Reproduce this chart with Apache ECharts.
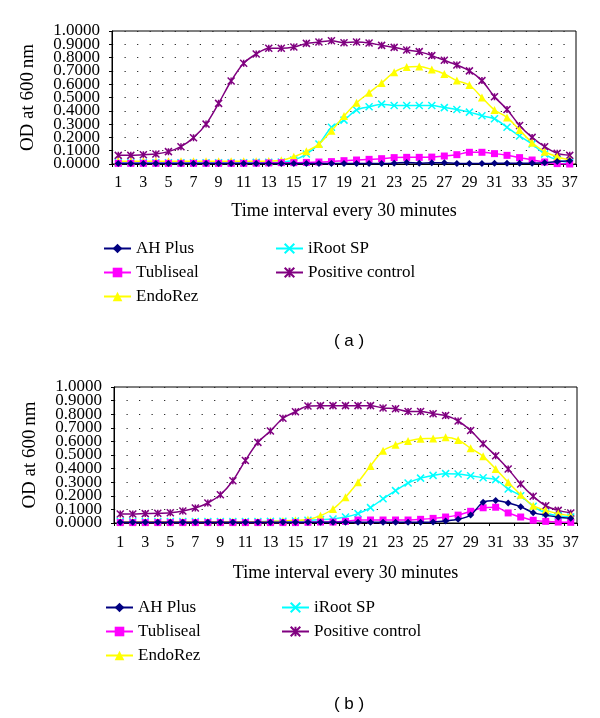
<!DOCTYPE html>
<html>
<head>
<meta charset="utf-8">
<script src="https://cdn.jsdelivr.net/npm/echarts@6/dist/echarts.min.js"></script>
<style>html,body{margin:0;padding:0;background:#fff}#c{width:600px;height:718px}</style>
</head>
<body>
<div id="c"></div>
<script>
const categories = Array.from({length: 37}, (_, i) => String(i + 1));
const seriesNames = ['AH Plus', 'Tubliseal', 'EndoRez', 'iRoot SP', 'Positive control'];
const yTicks = [0, 0.1, 0.2, 0.3, 0.4, 0.5, 0.6, 0.7, 0.8, 0.9, 1.0];

// Panel (a)
const aAHPlus = [0.003,0.003,0.003,0.003,0.003,0.003,0.003,0.003,0.003,0.003,0.003,0.003,0.003,0.003,0.003,0.003,0.003,0.003,0.003,0.003,0.003,0.004,0.006,0.012,0.006,0.01,0.01,0.004,0.004,0.004,0.005,0.005,0.005,0.006,0.01,0.018,0.025];
const aTubliseal = [0.005,0.005,0.005,0.005,0.005,0.005,0.005,0.005,0.005,0.005,0.005,0.006,0.008,0.01,0.01,0.012,0.015,0.018,0.025,0.03,0.035,0.04,0.048,0.05,0.05,0.052,0.06,0.07,0.088,0.088,0.078,0.065,0.048,0.03,0.015,0.003,0.0];
const aEndoRez = [0.02,0.02,0.02,0.02,0.02,0.02,0.02,0.02,0.02,0.02,0.02,0.02,0.022,0.028,0.055,0.095,0.15,0.25,0.36,0.46,0.536,0.609,0.69,0.73,0.734,0.71,0.677,0.627,0.594,0.5,0.406,0.35,0.255,0.16,0.093,0.055,0.03];
const aIRootSP = [0.01,0.01,0.01,0.01,0.01,0.01,0.01,0.01,0.01,0.01,0.01,0.012,0.013,0.015,0.03,0.075,0.15,0.276,0.33,0.406,0.43,0.45,0.44,0.44,0.44,0.44,0.424,0.41,0.39,0.363,0.34,0.276,0.21,0.15,0.075,0.03,0.01];
const aPositive = [0.065,0.065,0.07,0.075,0.093,0.13,0.198,0.3,0.456,0.624,0.757,0.827,0.87,0.87,0.88,0.907,0.917,0.927,0.912,0.917,0.91,0.892,0.877,0.857,0.845,0.815,0.78,0.744,0.7,0.627,0.506,0.41,0.29,0.2,0.13,0.08,0.065];

// Panel (b)
const bAHPlus = [0.005,0.005,0.005,0.005,0.005,0.005,0.005,0.005,0.005,0.005,0.005,0.005,0.005,0.005,0.005,0.005,0.005,0.005,0.005,0.005,0.005,0.005,0.005,0.005,0.006,0.008,0.015,0.027,0.058,0.153,0.166,0.147,0.12,0.076,0.058,0.043,0.035];
const bTubliseal = [0.003,0.003,0.003,0.003,0.003,0.003,0.003,0.003,0.003,0.003,0.003,0.003,0.003,0.003,0.003,0.005,0.007,0.007,0.012,0.022,0.022,0.022,0.022,0.022,0.027,0.034,0.044,0.058,0.086,0.112,0.116,0.074,0.044,0.02,0.012,0.007,0.005];
const bEndoRez = [0.01,0.01,0.01,0.01,0.01,0.01,0.01,0.01,0.01,0.01,0.01,0.01,0.012,0.015,0.02,0.025,0.054,0.103,0.19,0.3,0.42,0.532,0.575,0.603,0.62,0.622,0.63,0.61,0.55,0.49,0.397,0.3,0.208,0.127,0.093,0.069,0.054];
const bIRootSP = [0.01,0.01,0.01,0.01,0.01,0.01,0.01,0.01,0.01,0.01,0.01,0.01,0.012,0.013,0.015,0.02,0.025,0.03,0.044,0.069,0.113,0.178,0.238,0.294,0.33,0.35,0.363,0.36,0.348,0.333,0.319,0.25,0.2,0.123,0.074,0.054,0.044];
const bPositive = [0.066,0.066,0.069,0.071,0.076,0.088,0.11,0.147,0.208,0.311,0.46,0.593,0.676,0.77,0.818,0.86,0.863,0.863,0.863,0.863,0.863,0.846,0.84,0.82,0.82,0.804,0.79,0.75,0.68,0.583,0.495,0.397,0.287,0.196,0.127,0.093,0.074];

const colors = ['#000080', '#FF00FF', '#FFFF00', '#00FFFF', '#800080'];
const symbols = [
  'diamond',
  'rect',
  'triangle',
  'path://M0,0L10,10M10,0L0,10',
  'path://M0,0L10,10M10,0L0,10M5,0L5,10'
];
const symbolSizes = [7, 7, 8, 7, 7];
const serif = '"Liberation Serif", "DejaVu Serif", serif';

const panels = [
  {data: [aAHPlus, aTubliseal, aEndoRez, aIRootSP, aPositive], grid: {left: 112, top: 31, width: 464, height: 133}},
  {data: [bAHPlus, bTubliseal, bEndoRez, bIRootSP, bPositive], grid: {left: 114, top: 387, width: 463, height: 136}}
];

const isOddTenth = v => Math.round(v * 10) % 2 === 1;
const fmt = v => v.toFixed(4);

const grids = [], xAxes = [], yAxes = [], series = [];
panels.forEach((p, pi) => {
  grids.push(Object.assign({show: true, borderColor: '#000', borderWidth: 1, backgroundColor: '#fff'}, p.grid));
  const step = p.grid.width / categories.length;
  xAxes.push({
    type: 'category', gridIndex: pi, data: categories, boundaryGap: true,
    name: 'Time interval every 30 minutes', nameLocation: 'middle', nameGap: pi === 0 ? 38 : 41,
    nameTextStyle: {fontFamily: serif, fontSize: 18, color: '#000'},
    axisLine: {lineStyle: {color: '#000', width: 1}},
    axisTick: {show: true, length: 3, lineStyle: {color: '#000'}},
    axisLabel: {interval: 1, fontFamily: serif, fontSize: 16, color: '#000', margin: pi === 0 ? 11 : 12},
    splitLine: {show: false}
  });
  // main axis: grid lines, ticks, odd-tenth labels
  yAxes.push({
    type: 'value', gridIndex: pi, position: 'left', offset: 0, min: 0, max: 1, interval: 0.1,
    name: 'OD at 600\u2009nm', nameLocation: 'middle', nameGap: 74, nameRotate: 90,
    nameTextStyle: {fontFamily: serif, fontSize: 19, color: '#000'},
    axisLine: {show: true, lineStyle: {color: '#000', width: 1}},
    axisTick: {show: true, length: 3, lineStyle: {color: '#000'}},
    axisLabel: {fontFamily: serif, fontSize: 17, color: '#000', margin: 12, formatter: v => isOddTenth(v) ? fmt(v) : ''},
    splitLine: {show: true, lineStyle: {color: '#222', width: 1, type: [1.2, step - 1.2]}}
  });
  // companion axis: even-tenth labels only
  yAxes.push({
    type: 'value', gridIndex: pi, position: 'left', offset: 0, min: 0, max: 1, interval: 0.2,
    axisLine: {show: false}, axisTick: {show: false}, splitLine: {show: false},
    axisLabel: {fontFamily: serif, fontSize: 17, color: '#000', margin: 12, showMinLabel: true, showMaxLabel: true, formatter: fmt}
  });
  p.data.forEach((d, si) => {
    series.push({
      name: seriesNames[si], type: 'line', xAxisIndex: pi, yAxisIndex: pi * 2,
      data: d, smooth: 0.3, symbol: symbols[si], symbolSize: symbolSizes[si], showSymbol: true,
      lineStyle: {color: colors[si], width: 1.5},
      itemStyle: {color: colors[si], borderColor: colors[si], borderWidth: si >= 3 ? 1.5 : 0},
      z: si === 4 ? 2 : 3 + (4 - si),
      animation: false
    });
  });
});

function legend(left, top, names) {
  return {
    left: left, top: top, orient: 'vertical', data: names,
    itemWidth: 27, itemHeight: 12, itemGap: 7,
    textStyle: {fontFamily: serif, fontSize: 17, color: '#000', lineHeight: 17},
    selectedMode: false
  };
}

const option = {
  animation: false,
  backgroundColor: '#fff',
  title: [
    {text: '( a )', left: 344, top: 328, textAlign: 'center', textStyle: {fontFamily: '"Liberation Sans", Arial, sans-serif', fontSize: 17, fontWeight: 'normal', color: '#000'}},
    {text: '( b )', left: 344, top: 691, textAlign: 'center', textStyle: {fontFamily: '"Liberation Sans", Arial, sans-serif', fontSize: 17, fontWeight: 'normal', color: '#000'}}
  ],
  legend: [
    legend(98, 235, ['AH Plus', 'Tubliseal', 'EndoRez']),
    legend(270, 235, ['iRoot SP', 'Positive control']),
    legend(100, 594, ['AH Plus', 'Tubliseal', 'EndoRez']),
    legend(276, 594, ['iRoot SP', 'Positive control'])
  ],
  grid: grids, xAxis: xAxes, yAxis: yAxes, series: series
};

const chart = echarts.init(document.getElementById('c'), null, {renderer: 'canvas'});
chart.setOption(option);
</script>
</body>
</html>
